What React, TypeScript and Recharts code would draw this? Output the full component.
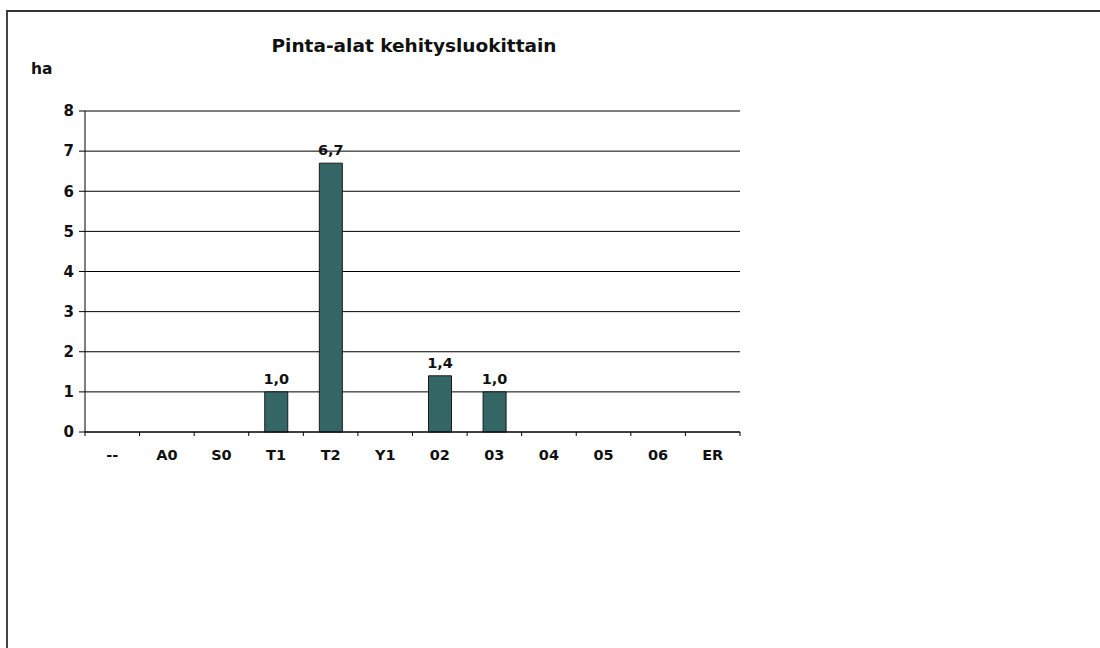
import React from "react";
import { BarChart, Bar, XAxis, YAxis, CartesianGrid, LabelList } from "recharts";

const categories = ["--", "A0", "S0", "T1", "T2", "Y1", "02", "03", "04", "05", "06", "ER"];
const areaValues: (number | null)[] = [null, null, null, 1.0, 6.7, null, 1.4, 1.0, null, null, null, null];
const yTicks = [0, 1, 2, 3, 4, 5, 6, 7, 8];
const titleText = "Pinta-alat kehitysluokittain";
const unitText = "ha";

const data = categories.map((c, i) => ({ name: c, value: areaValues[i] }));

const FONT = "'DejaVu Sans', Verdana, sans-serif";
const W = 1100;
const H = 648;
const PLOT_LEFT = 85;
const PLOT_RIGHT = 740;
const PLOT_TOP = 111;
const PLOT_BOTTOM = 432;
const Y_AXIS_W = 60;
const X_AXIS_H = 40;
const BAND = (PLOT_RIGHT - PLOT_LEFT) / categories.length;

const XTick = (props: any) => {
  const { x, payload } = props;
  const idx = payload.index;
  const axisY = PLOT_BOTTOM;
  return (
    <g>
      <line x1={x - BAND / 2} x2={x - BAND / 2} y1={axisY} y2={axisY + 4} stroke="#000" strokeWidth={1} />
      {idx === categories.length - 1 && (
        <line x1={x + BAND / 2} x2={x + BAND / 2} y1={axisY} y2={axisY + 4} stroke="#000" strokeWidth={1} />
      )}
      <text x={x} y={axisY + 28} textAnchor="middle" fontFamily={FONT} fontWeight="bold" fontSize={14.5} fill="#111">
        {payload.value}
      </text>
    </g>
  );
};

const fmt = (v: any) => (v == null ? "" : Number(v).toFixed(1).replace(".", ","));

export default function App() {
  return (
    <div style={{ position: "absolute", left: 0, top: 0, width: W, height: H, background: "#fff", overflow: "hidden" }}>
      <div
        style={{
          position: "absolute",
          left: 6,
          top: 10,
          width: W + 20,
          height: H + 20,
          borderTop: "2px solid #333",
          borderLeft: "2px solid #444",
          boxSizing: "border-box",
        }}
      />
      <div
        style={{
          position: "absolute",
          left: 0,
          width: 828,
          top: 35,
          textAlign: "center",
          fontFamily: FONT,
          fontWeight: "bold",
          fontSize: 18.5,
          color: "#111",
          lineHeight: "22px",
          whiteSpace: "nowrap",
        }}
      >
        {titleText}
      </div>
      <div
        style={{
          position: "absolute",
          left: 31,
          top: 60,
          fontFamily: FONT,
          fontWeight: "bold",
          fontSize: 15.5,
          color: "#111",
          lineHeight: "18px",
        }}
      >
        {unitText}
      </div>
      <div style={{ position: "absolute", left: 0, top: 0 }}>
        <BarChart
          width={W}
          height={H}
          data={data}
          margin={{
            left: PLOT_LEFT - Y_AXIS_W,
            right: W - PLOT_RIGHT,
            top: PLOT_TOP,
            bottom: H - PLOT_BOTTOM - X_AXIS_H,
          }}
        >
          <CartesianGrid horizontal={true} vertical={false} stroke="#000" strokeWidth={1} />
          <XAxis
            dataKey="name"
            height={X_AXIS_H}
            axisLine={{ stroke: "#000", strokeWidth: 1 }}
            tickLine={false}
            tick={<XTick />}
            interval={0}
          />
          <YAxis
            width={Y_AXIS_W}
            domain={[0, 8]}
            ticks={yTicks}
            interval={0}
            axisLine={{ stroke: "#000", strokeWidth: 1 }}
            tickLine={{ stroke: "#000" }}
            tickSize={6}
            tickMargin={5}
            tick={{ fontFamily: FONT, fontWeight: "bold", fontSize: 15, fill: "#111" }}
          />
          <Bar dataKey="value" fill="#356666" stroke="#1a1a1a" strokeWidth={1} barSize={23} isAnimationActive={false}>
            <LabelList
              dataKey="value"
              position="top"
              offset={8}
              formatter={fmt}
              style={{ fontFamily: FONT, fontWeight: "bold", fontSize: 14.5, fill: "#111" }}
            />
          </Bar>
        </BarChart>
      </div>
    </div>
  );
}
